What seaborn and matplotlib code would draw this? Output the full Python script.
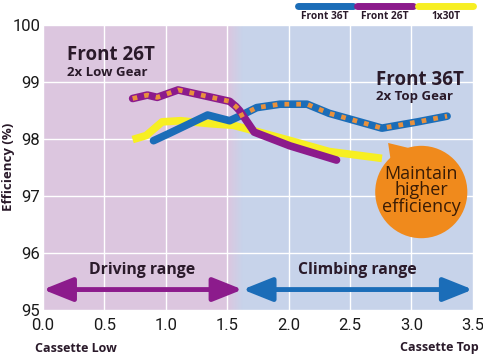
import matplotlib
matplotlib.use("Agg")
import matplotlib.pyplot as plt
import seaborn as sns
import numpy as np
import pandas as pd
from matplotlib.colors import LinearSegmentedColormap
from matplotlib.patches import FancyArrowPatch, Ellipse, Polygon

# ---- data ----
x36 = [0.90, 1.03, 1.34, 1.52, 1.60, 1.74, 1.93, 2.15, 2.33, 2.76, 3.05, 3.29]
y36 = [97.97, 98.10, 98.42, 98.32, 98.40, 98.55, 98.61, 98.61, 98.45, 98.19, 98.30, 98.40]
x26 = [0.73, 0.85, 0.93, 1.10, 1.52, 1.57, 1.60, 1.72, 2.01, 2.39]
y26 = [98.71, 98.77, 98.73, 98.86, 98.66, 98.57, 98.50, 98.12, 97.88, 97.63]
x30 = [0.73, 0.84, 0.97, 1.12, 1.35, 1.55, 1.76, 2.00, 2.33, 2.76]
y30 = [97.99, 98.06, 98.30, 98.32, 98.27, 98.24, 98.12, 97.98, 97.78, 97.66]
series_names = ["Front 36T", "Front 26T", "1x30T"]
split_x = 1.625
xticks = [0.0, 0.5, 1.0, 1.5, 2.0, 2.5, 3.0, 3.5]
yticks = [95, 96, 97, 98, 99, 100]

C_BLUE = "#1b6db8"
C_PURPLE = "#8c1b8c"
C_YELLOW = "#f7ef22"
C_ORANGE = "#f08a1c"
C_DOT = "#e8913c"
BG_PINK = "#dcc6df"
BG_BLUE = "#c7d3ea"
TXT = "#2a1a2a"

sns.set_style("white")
plt.rcParams["font.family"] = ["Open Sans", "DejaVu Sans"]

fig = plt.figure(figsize=(4.83, 3.56), dpi=100)
ax = fig.add_axes([0.089, 0.129, 0.890, 0.801])

# background: pink (driving) -> blue (climbing) with a short blend
ax.axvspan(0, 1.50, color=BG_PINK, zorder=0, lw=0)
ax.axvspan(split_x, 3.5, color=BG_BLUE, zorder=0, lw=0)
cmap = LinearSegmentedColormap.from_list("bg", [BG_PINK, BG_BLUE])
ax.imshow(np.linspace(0, 1, 64)[None, :], cmap=cmap, aspect="auto",
          extent=(1.50, split_x, 95, 100), zorder=0, interpolation="bilinear")

df36 = pd.DataFrame({"x": x36, "y": y36})
df26 = pd.DataFrame({"x": x26, "y": y26})
df30 = pd.DataFrame({"x": x30, "y": y30})

lw = 5.5
sns.lineplot(data=df30, x="x", y="y", ax=ax, color=C_YELLOW, lw=lw, sort=False,
             solid_capstyle="butt", zorder=3)
sns.lineplot(data=df36, x="x", y="y", ax=ax, color=C_BLUE, lw=lw, sort=False,
             solid_capstyle="round", zorder=4)
sns.lineplot(data=df26, x="x", y="y", ax=ax, color=C_PURPLE, lw=lw, sort=False,
             solid_capstyle="round", zorder=5)

# orange dotted overlays for the recommended gear
d26 = df26[df26.x <= 1.60]
d36 = df36[df36.x >= 1.60]
for d in (d26, d36):
    ax.plot(d.x, d.y, color=C_DOT, lw=3.4, dashes=(1.0, 1.5), zorder=6,
            dash_capstyle="butt")

ax.set_xlim(0, 3.5)
ax.set_ylim(95, 100)
ax.set_xticks(xticks)
ax.set_yticks(yticks)
ax.set_xticklabels([f"{v:.1f}" for v in xticks])
ax.tick_params(length=0, labelsize=12, colors="#1a1a1a")
ax.tick_params(axis="y", pad=2)
ax.tick_params(axis="x", pad=6)
for lab in ax.get_xticklabels() + ax.get_yticklabels():
    lab.set_family(["Roboto", "DejaVu Sans"])
ax.grid(True, color="white", lw=1.0, zorder=1)
ax.set_axisbelow(True)
for s in ax.spines.values():
    s.set_visible(False)
ax.set_xlabel("")
ax.set_ylabel("")
fig.text(9 / 483, 1 - 167 / 356, "Efficiency (%)", rotation=90, fontsize=9.5,
         fontweight="bold", color=TXT, ha="center", va="center")

# annotations
ax.text(0.195, 99.47, "Front 26T", fontsize=13.5, fontweight="bold", color=TXT, va="center")
ax.text(0.195, 99.16, "2x Low Gear", fontsize=9.5, fontweight="bold", color=TXT, va="center")
ax.text(2.71, 99.04, "Front 36T", fontsize=13.5, fontweight="bold", color=TXT, va="center")
ax.text(2.71, 98.74, "2x Top Gear", fontsize=9.5, fontweight="bold", color=TXT, va="center")

ax.text(0.81, 95.70, "Driving range", fontsize=11.3, fontweight="bold", color=TXT,
        ha="center", va="center")
ax.text(2.56, 95.70, "Climbing range", fontsize=11.3, fontweight="bold", color=TXT,
        ha="center", va="center")

arrow_style = "<|-|>,head_length=1.5,head_width=0.6"
ax.add_patch(FancyArrowPatch((0.0, 95.36), (split_x, 95.36), arrowstyle=arrow_style,
                             mutation_scale=12, lw=3.5, color=C_PURPLE,
                             shrinkA=0, shrinkB=0, zorder=7, clip_on=False))
ax.add_patch(FancyArrowPatch((split_x, 95.36), (3.5, 95.36), arrowstyle=arrow_style,
                             mutation_scale=12, lw=3.5, color=C_BLUE,
                             shrinkA=0, shrinkB=0, zorder=7, clip_on=False))

# speech bubble
ax.add_patch(Ellipse((3.08, 97.07), width=0.75, height=1.62, color=C_ORANGE, zorder=8, lw=0))
ax.add_patch(Polygon([(2.81, 97.93), (2.84, 97.50), (3.02, 97.82)], closed=True,
                     color=C_ORANGE, zorder=8, lw=0))
ax.text(3.08, 97.10, "Maintain\nhigher\nefficiency", fontsize=13, color="#3a1c05",
        ha="center", va="center", linespacing=0.9, zorder=9)

# legend above the plot
leg = [(C_BLUE, 0.593, 0.721, 0.656), (C_PURPLE, 0.730, 0.860, 0.795),
       (C_YELLOW, 0.872, 1.000, 0.937)]
for (c, x0, x1, xc), name in zip(leg, series_names):
    ax.plot([x0, x1], [1.067, 1.067], transform=ax.transAxes, color=c, lw=5,
            solid_capstyle="round", clip_on=False)
    ax.text(xc, 1.028, name, transform=ax.transAxes, fontsize=7.3, fontweight="bold",
            color=TXT, ha="center", va="center")

fig.text(35 / 483, 1 - 348 / 356, "Cassette Low", fontsize=9, fontweight="bold",
         color=TXT, ha="left", va="center")
fig.text(479 / 483, 1 - 348 / 356, "Cassette Top", fontsize=9, fontweight="bold",
         color=TXT, ha="right", va="center")

fig.savefig("out.png", dpi=100)
